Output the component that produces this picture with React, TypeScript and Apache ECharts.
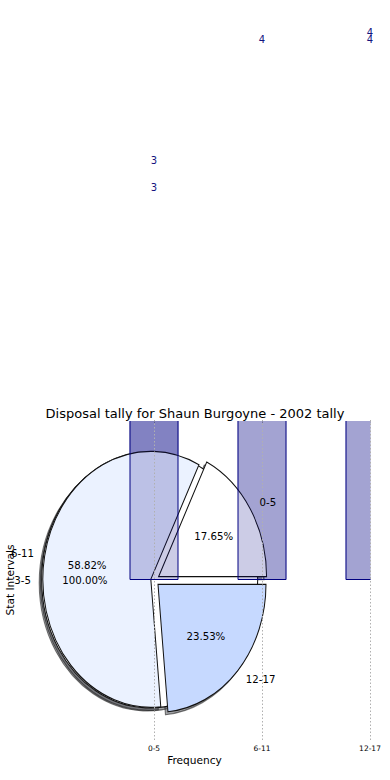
import React, { useEffect, useRef } from 'react';
import * as echarts from 'echarts';

const titleText = 'Disposal tally for Shaun Burgoyne - 2002 tally';
const xTickValues = [0, 1, 2];
const xTickLabels = ['0-5', '6-11', '12-17'];
const xAxisName = 'Frequency';
const yAxisName = 'Stat Intervals';

// bars (categories at x = 0, 1, 2)
const barValues = [3, 4, 4];
const barExtraValues = [3];

// bar value labels
const barLabelX = [0, 0, 1, 2, 2];
const barLabelHeights = [3.28, 3.07, 4.22, 4.28, 4.22];
const barLabelTexts = ['3', '3', '4', '4', '4'];

// pie of intervals
const pieNames = ['0-5', '6-11', '12-17'];
const pieValues = [3, 10, 4];
const pieExplode = [0.05, 0.03, 0.05];
const pieColors = ['#ffffff', '#ebf2ff', '#c6d9ff'];

// single-slice pie
const fullPieNames = ['3-5'];
const fullPieValues = [1];
const fullPieExplode = [0.04];
const fullPieColors = ['#ffffff'];

const FONT = '"DejaVu Sans", "Liberation Sans", sans-serif';

type Slice = {
  name: string; pct: string; a1: number; a2: number; mid: number;
  ex: number; ey: number; color: string; z2: number;
};

function buildSlices(names: string[], values: number[], explode: number[], colors: string[], z2: number): Slice[] {
  const total = values.reduce((a, b) => a + b, 0);
  let cum = 0;
  return values.map((v, i) => {
    const a1 = (cum / total) * Math.PI * 2;
    cum += v;
    const a2 = (cum / total) * Math.PI * 2;
    const mid = (a1 + a2) / 2;
    return {
      name: names[i],
      pct: ((v / total) * 100).toFixed(2) + '%',
      a1, a2, mid,
      ex: explode[i] * Math.cos(mid),
      ey: explode[i] * Math.sin(mid),
      color: colors[i],
      z2,
    };
  });
}

const slices: Slice[] = [
  ...buildSlices(fullPieNames, fullPieValues, fullPieExplode, fullPieColors, 1),
  ...buildSlices(pieNames, pieValues, pieExplode, pieColors, 2),
];

export default function App() {
  const ref = useRef<HTMLDivElement>(null);
  useEffect(() => {
    if (!ref.current) return;
    const chart = echarts.init(ref.current, undefined, { renderer: 'svg' });
    const barColor = 'rgba(0,0,128,0.2)';
    const option: any = {
      animation: false,
      backgroundColor: '#ffffff',
      title: {
        text: titleText,
        left: 'center',
        top: 402,
        z: 8,
        textStyle: { fontFamily: FONT, fontSize: 13, fontWeight: 'normal', color: '#000' },
      },
      grid: { left: 19, right: 20, top: 420, bottom: 40, containLabel: false, outerBoundsMode: 'none' },
      graphic: [
        { type: 'rect', z: 4, silent: true, shape: { x: 0, y: 0, width: 390, height: 421 }, style: { fill: '#ffffff' } },
        { type: 'rect', z: 4, silent: true, shape: { x: 370.6, y: 415, width: 20, height: 170 }, style: { fill: '#ffffff' } },
      ],
      xAxis: [
        {
          type: 'value',
          min: -1.25,
          max: 2,
          position: 'bottom',
          name: xAxisName,
          nameLocation: 'middle',
          nameGap: 14,
          nameTextStyle: { fontFamily: FONT, fontSize: 10.6, color: '#000' },
          axisLine: { show: false },
          splitLine: { show: false },
          axisTick: { show: true, inside: true, length: 3, customValues: xTickValues, lineStyle: { color: '#999' } },
          axisLabel: {
            show: true,
            customValues: xTickValues,
            margin: 4,
            fontFamily: FONT,
            fontSize: 7.5,
            color: '#000',
            formatter: (v: number) => xTickLabels[xTickValues.indexOf(Math.round(v))] ?? '',
          },
        },
        {
          type: 'value',
          min: -1.25,
          max: 2,
          position: 'top',
          axisLine: { show: false },
          splitLine: { show: false },
          axisLabel: { show: false },
          axisTick: { show: true, inside: true, length: 3, customValues: xTickValues, lineStyle: { color: '#aaa' } },
        },
      ],
      yAxis: {
        type: 'value',
        min: -1.25,
        max: 1.25,
        name: yAxisName,
        nameLocation: 'middle',
        nameGap: 4,
        nameTextStyle: { fontFamily: FONT, fontSize: 10.6, color: '#000' },
        axisLine: { show: false },
        axisTick: { show: false },
        axisLabel: { show: false },
        splitLine: { show: false },
      },
      series: [
        {
          type: 'bar',
          name: 'under',
          z: 1,
          clip: true,
          barWidth: 49,
          barGap: '-100%',
          data: barValues.map((v, i) => [xTickValues[i], v]),
          itemStyle: { color: barColor },
        },
        {
          type: 'bar',
          name: 'under2',
          z: 1,
          clip: true,
          barWidth: 49,
          barGap: '-100%',
          data: barExtraValues.map((v, i) => [xTickValues[i], v]),
          itemStyle: { color: barColor },
        },
        {
          type: 'custom',
          name: 'pie',
          z: 2,
          data: slices.map((s) => [s.ex, s.ey]),
          renderItem: (params: any, api: any) => {
            const s = slices[params.dataIndex];
            const c = api.coord([s.ex, s.ey]);
            const size = api.size([1, 1]);
            const rx = size[0];
            const ry = size[1];
            const shape = { cx: 0, cy: 0, r: rx, r0: 0, startAngle: -s.a2, endAngle: -s.a1, clockwise: true };
            return {
              type: 'group',
              children: [
                {
                  type: 'sector',
                  x: c[0] - 2.5,
                  y: c[1] + 3,
                  scaleY: ry / rx,
                  z2: 0,
                  shape,
                  style: { fill: 'rgba(70,72,78,0.5)', stroke: 'rgba(0,0,0,0.5)', lineWidth: 1, strokeNoScale: true },
                },
                {
                  type: 'sector',
                  x: c[0],
                  y: c[1],
                  scaleY: ry / rx,
                  z2: s.z2,
                  shape,
                  style: { fill: s.color, stroke: '#111', lineWidth: 1, strokeNoScale: true },
                },
              ],
            };
          },
        },
        {
          type: 'bar',
          name: 'top',
          z: 3,
          clip: true,
          barWidth: 49,
          barGap: '-100%',
          data: barValues.map((v, i) => [xTickValues[i], v]),
          itemStyle: { color: barColor, borderColor: '#000080', borderWidth: 1 },
          markLine: {
            silent: true,
            z: 5,
            symbol: ['none', 'none'],
            label: { show: false },
            lineStyle: { color: '#b0b0b0', type: [1.5, 2], width: 1 },
            data: xTickValues.map((x) => ({ xAxis: x })),
          },
        },
        {
          type: 'custom',
          name: 'pieLabels',
          z: 6,
          data: slices.map((s) => [s.ex, s.ey]),
          renderItem: (params: any, api: any) => {
            const s = slices[params.dataIndex];
            const cm = Math.cos(s.mid);
            const sm = Math.sin(s.mid);
            const pc = api.coord([s.ex + 0.6 * cm, s.ey + 0.6 * sm]);
            const lc = api.coord([s.ex + 1.1 * cm, s.ey + 1.1 * sm]);
            return {
              type: 'group',
              children: [
                {
                  type: 'text',
                  x: pc[0],
                  y: pc[1],
                  style: { text: s.pct, fill: '#000', fontSize: 10.2, fontFamily: FONT, align: 'center', verticalAlign: 'middle' },
                },
                {
                  type: 'text',
                  x: lc[0],
                  y: lc[1],
                  style: { text: s.name, fill: '#000', fontSize: 10.2, fontFamily: FONT, align: cm > 0 ? 'left' : 'right', verticalAlign: 'middle' },
                },
              ],
            };
          },
        },
        {
          type: 'custom',
          name: 'barLabels',
          z: 6,
          data: barLabelX.map((x, i) => [x, barLabelHeights[i]]),
          renderItem: (params: any, api: any) => {
            const i = params.dataIndex;
            const p = api.coord([barLabelX[i], barLabelHeights[i]]);
            return {
              type: 'text',
              x: p[0],
              y: p[1],
              style: { text: barLabelTexts[i], fill: '#14147f', fontSize: 10, fontFamily: FONT, align: 'center', verticalAlign: 'middle' },
            };
          },
        },
      ],
    };
    chart.setOption(option);
    return () => chart.dispose();
  }, []);
  return <div ref={ref} style={{ position: 'absolute', left: 0, top: 0, width: 390, height: 780 }} />;
}
